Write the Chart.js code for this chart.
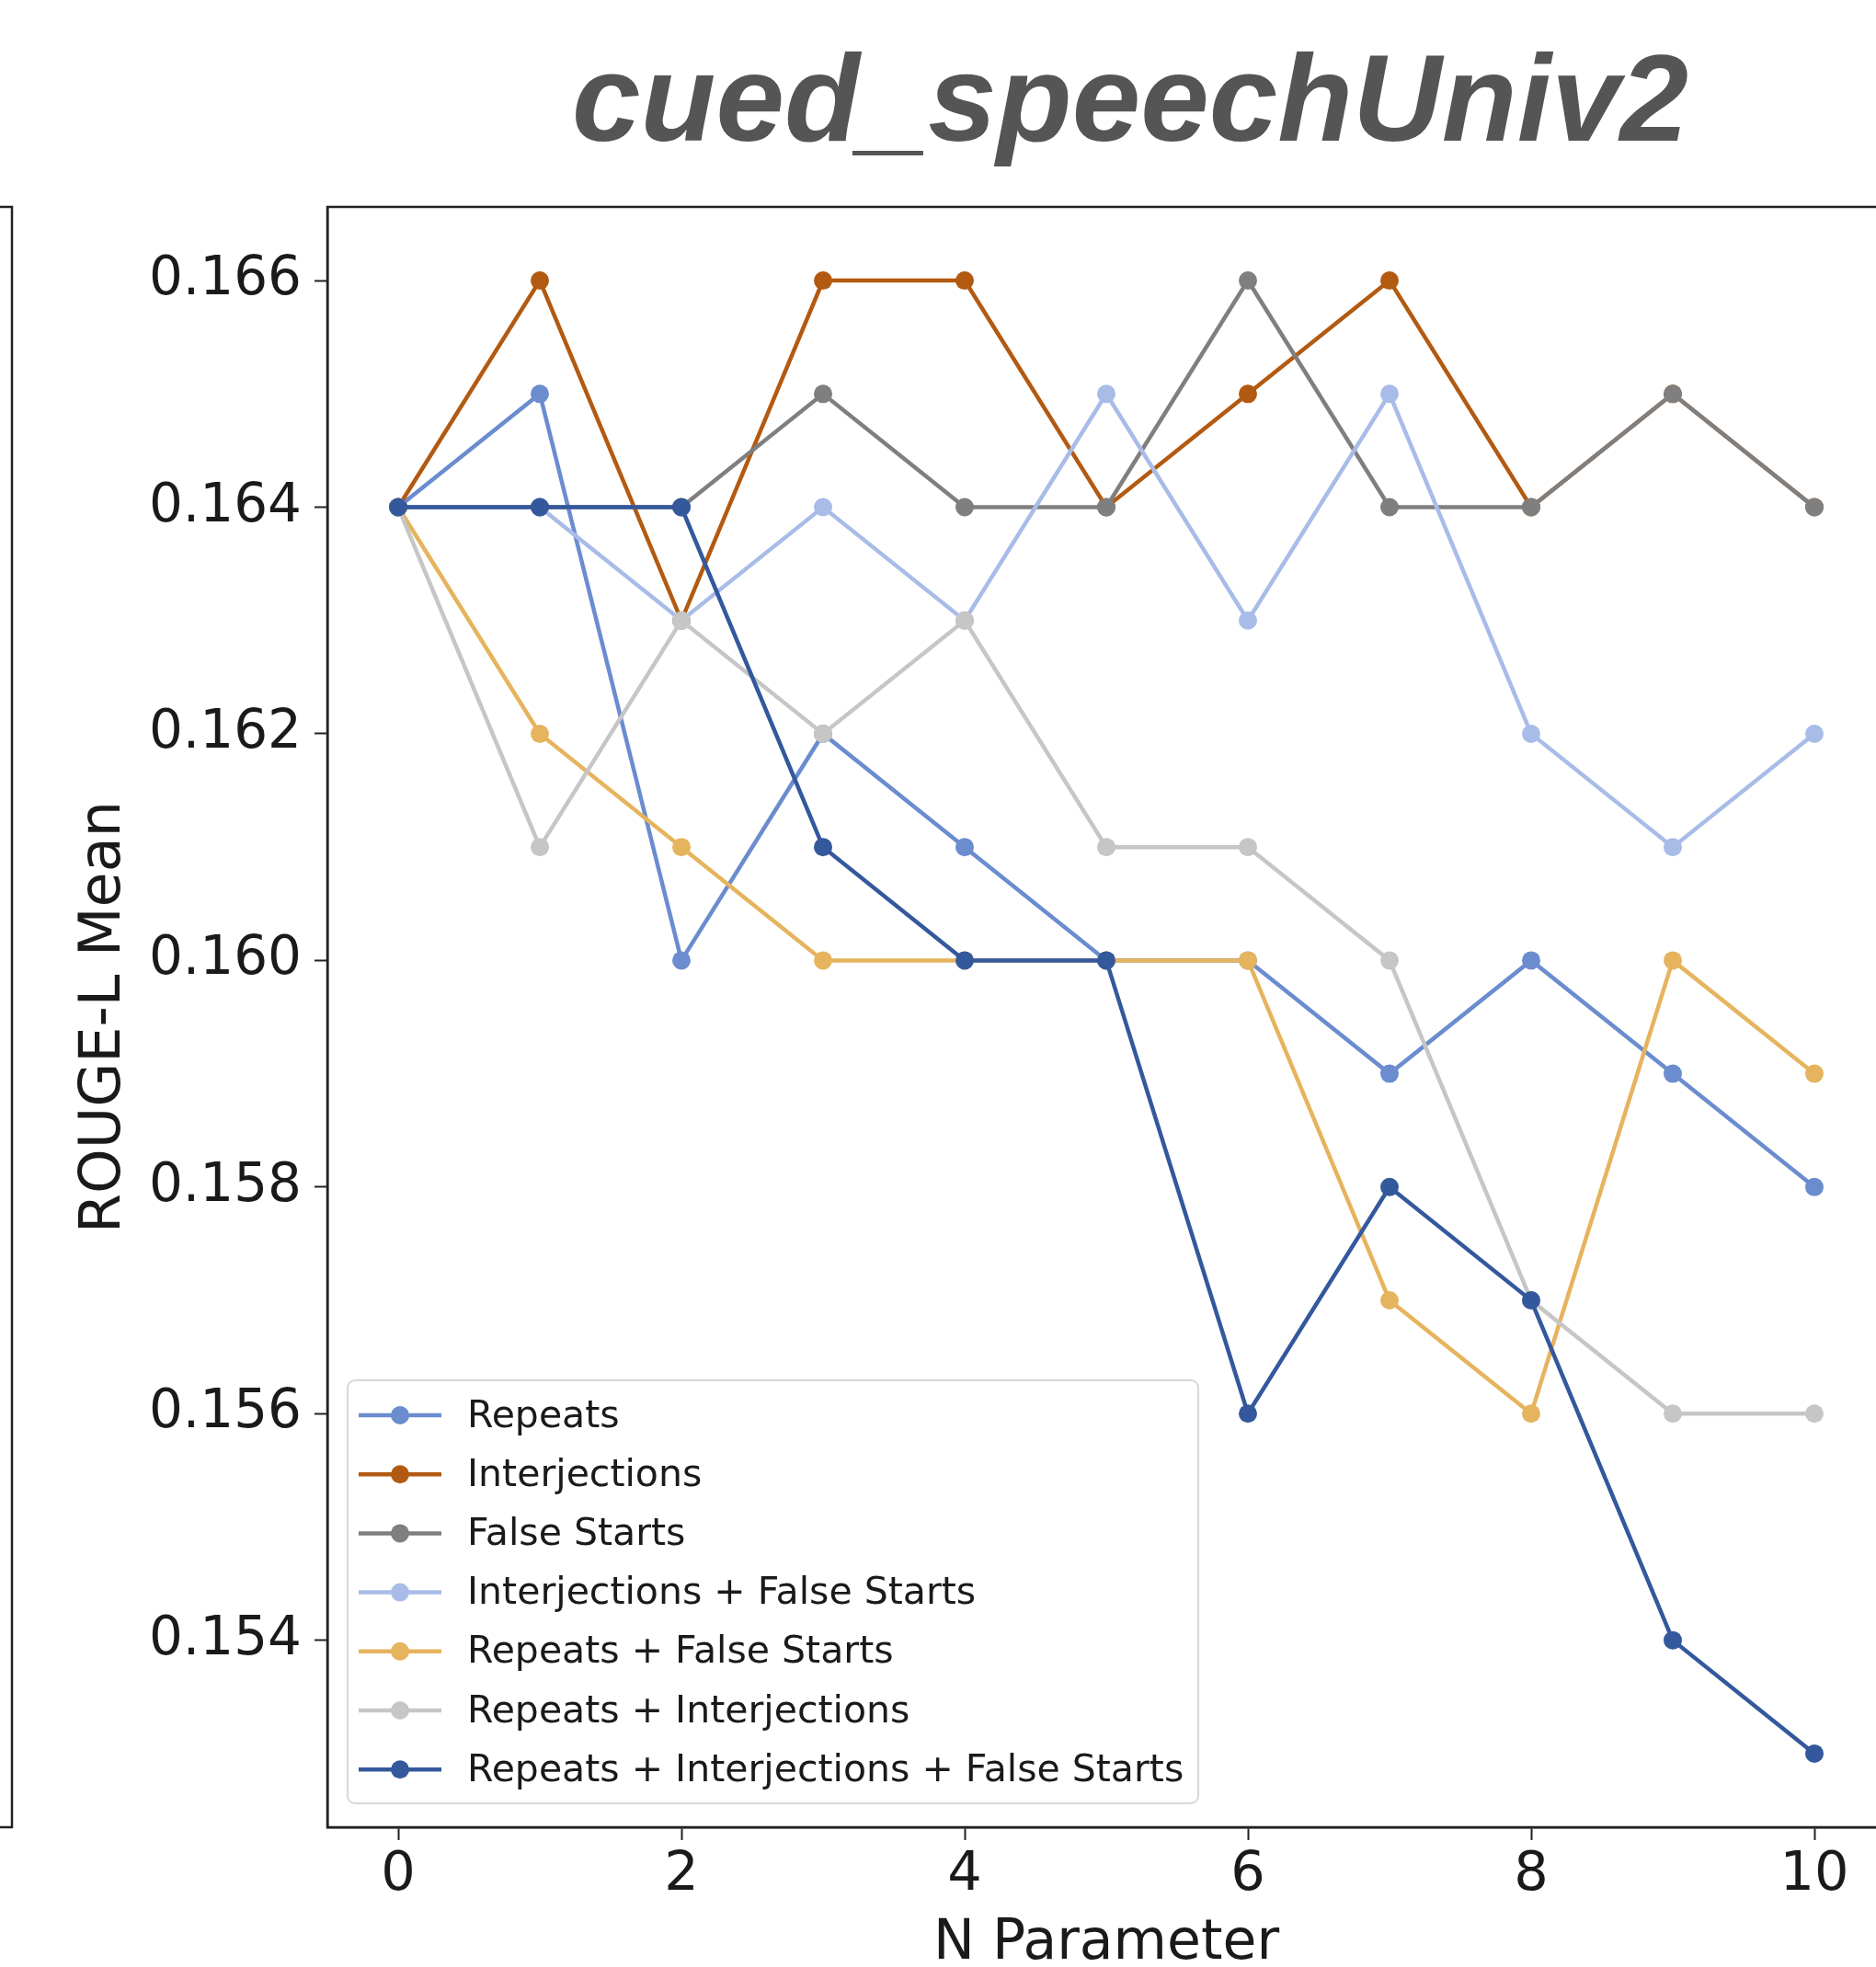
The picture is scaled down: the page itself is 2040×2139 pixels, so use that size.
<!DOCTYPE html>
<html>
<head>
<meta charset="utf-8">
<title>cued_speechUniv2</title>
<script src="https://cdn.jsdelivr.net/npm/chart.js@4.4.1/dist/chart.umd.min.js"></script>
<style>
  html, body { margin: 0; padding: 0; background: #fff; overflow: hidden; }
  canvas { display: block; }
</style>
</head>
<body>
<canvas id="chart" width="2060" height="2160"></canvas>
<script>
// N parameter values (x axis)
const nValues = [0, 1, 2, 3, 4, 5, 6, 7, 8, 9, 10];

// ROUGE-L mean per setting
const repeats        = [0.164, 0.165, 0.160, 0.162, 0.161, 0.160, 0.160, 0.159, 0.160, 0.159, 0.158];
const interjections  = [0.164, 0.166, 0.163, 0.166, 0.166, 0.164, 0.165, 0.166, 0.164, 0.165, 0.164];
const falseStarts    = [0.164, 0.164, 0.164, 0.165, 0.164, 0.164, 0.166, 0.164, 0.164, 0.165, 0.164];
const interjFalse    = [0.164, 0.164, 0.163, 0.164, 0.163, 0.165, 0.163, 0.165, 0.162, 0.161, 0.162];
const repeatsFalse   = [0.164, 0.162, 0.161, 0.160, 0.160, 0.160, 0.160, 0.157, 0.156, 0.160, 0.159];
const repeatsInterj  = [0.164, 0.161, 0.163, 0.162, 0.163, 0.161, 0.161, 0.160, 0.157, 0.156, 0.156];
const allThree       = [0.164, 0.164, 0.164, 0.161, 0.160, 0.160, 0.156, 0.158, 0.157, 0.154, 0.153];

const seriesLabels = [
  'Repeats',
  'Interjections',
  'False Starts',
  'Interjections + False Starts',
  'Repeats + False Starts',
  'Repeats + Interjections',
  'Repeats + Interjections + False Starts'
];
const seriesValues = [repeats, interjections, falseStarts, interjFalse, repeatsFalse, repeatsInterj, allThree];
const seriesColors = ['#6b8cce', '#b35a12', '#7f7f7f', '#a9bce8', '#e6b45e', '#c6c6c6', '#34589c'];

const xTicks = [0, 2, 4, 6, 8, 10];
const yTicks = [0.154, 0.156, 0.158, 0.160, 0.162, 0.164, 0.166];

const FONT = "'DejaVu Sans', Verdana, sans-serif";

// title, the frame and the cut-off neighbour panel on the left
const decorPlugin = {
  id: 'decor',
  afterDraw(chart) {
    const { ctx, chartArea: a } = chart;
    ctx.save();
    ctx.strokeStyle = '#222';
    ctx.lineWidth = 2.5;
    ctx.strokeRect(a.left, a.top, a.right - a.left, a.bottom - a.top);

    // right edge of the previous subplot
    ctx.beginPath();
    ctx.moveTo(0, a.top);
    ctx.lineTo(13, a.top);
    ctx.lineTo(13, a.bottom);
    ctx.lineTo(0, a.bottom);
    ctx.stroke();

    ctx.fillStyle = '#555555';
    ctx.font = "italic bold 134px 'Liberation Sans', Arial, sans-serif";
    ctx.textAlign = 'center';
    ctx.textBaseline = 'alphabetic';
    ctx.fillText('cued_speechUniv2', 1229, 153);
    ctx.restore();
  }
};

// matplotlib-style legend in the lower left of the axes
const legendPlugin = {
  id: 'innerLegend',
  afterDraw(chart) {
    const { ctx, chartArea: a } = chart;
    const sets = chart.data.datasets;
    const boxX = a.left + 22, boxW = 925, boxH = 460;
    const boxY = a.bottom - 26 - boxH;
    const rowH = 64.2;
    ctx.save();
    ctx.beginPath();
    ctx.roundRect(boxX, boxY, boxW, boxH, 8);
    ctx.fillStyle = 'rgba(255,255,255,0.85)';
    ctx.fill();
    ctx.strokeStyle = '#d8d8d8';
    ctx.lineWidth = 2;
    ctx.stroke();

    ctx.font = '41px ' + FONT;
    ctx.textBaseline = 'middle';
    ctx.textAlign = 'left';
    sets.forEach((ds, i) => {
      const cy = boxY + 38 + i * rowH;
      ctx.strokeStyle = ds.borderColor;
      ctx.lineWidth = 4.5;
      ctx.beginPath();
      ctx.moveTo(boxX + 12, cy);
      ctx.lineTo(boxX + 102, cy);
      ctx.stroke();
      ctx.fillStyle = ds.borderColor;
      ctx.beginPath();
      ctx.arc(boxX + 57, cy, 10, 0, Math.PI * 2);
      ctx.fill();
      ctx.fillStyle = '#1a1a1a';
      ctx.fillText(ds.label, boxX + 130, cy + 2);
    });
    ctx.restore();
  }
};

const datasets = seriesValues.map((vals, i) => ({
  label: seriesLabels[i],
  data: nValues.map((n, j) => ({ x: n, y: vals[j] })),
  borderColor: seriesColors[i],
  backgroundColor: seriesColors[i],
  pointBackgroundColor: seriesColors[i],
  pointBorderWidth: 0,
  pointRadius: 10,
  borderWidth: 4.5,
  tension: 0,
  fill: false,
  order: seriesValues.length - i   // later series drawn on top, like matplotlib
}));

new Chart(document.getElementById('chart').getContext('2d'), {
  type: 'line',
  data: { datasets },
  options: {
    responsive: false,
    devicePixelRatio: 1,
    animation: false,
    layout: { padding: { top: 225, right: 10, left: 0, bottom: 0 } },
    plugins: {
      legend: { display: false },
      tooltip: { enabled: false },
      title: { display: false }
    },
    scales: {
      x: {
        type: 'linear',
        min: -0.5,
        max: 10.5,
        afterFit(scale) { scale.height = 173; },
        afterBuildTicks(scale) { scale.ticks = xTicks.map(v => ({ value: v })); },
        grid: { drawOnChartArea: false, drawTicks: true, tickLength: 14, tickColor: '#222', tickWidth: 2 },
        border: { display: true, color: '#222', width: 2.5 },
        ticks: {
          color: '#1a1a1a',
          padding: 3,
          maxRotation: 0,
          font: { family: FONT, size: 59, lineHeight: 1.2 },
          callback: v => String(v)
        },
        title: {
          display: true,
          text: 'N Parameter',
          color: '#1a1a1a',
          font: { family: FONT, size: 60, lineHeight: 1.2 },
          padding: { top: 0, bottom: 10 }
        }
      },
      y: {
        type: 'linear',
        min: 0.15235,
        max: 0.16665,
        afterFit(scale) { scale.width = 356; },
        afterBuildTicks(scale) { scale.ticks = yTicks.map(v => ({ value: v })); },
        grid: { drawOnChartArea: false, drawTicks: true, tickLength: 14, tickColor: '#222', tickWidth: 2 },
        border: { display: true, color: '#222', width: 2.5 },
        ticks: {
          color: '#1a1a1a',
          padding: 14,
          font: { family: FONT, size: 58, lineHeight: 1.2 },
          callback: v => v.toFixed(3)
        },
        title: {
          display: true,
          text: 'ROUGE-L Mean',
          color: '#1a1a1a',
          font: { family: FONT, size: 62, lineHeight: 1.2 },
          padding: { top: 77, bottom: 0 }
        }
      }
    }
  },
  plugins: [decorPlugin, legendPlugin]
});
</script>
</body>
</html>
